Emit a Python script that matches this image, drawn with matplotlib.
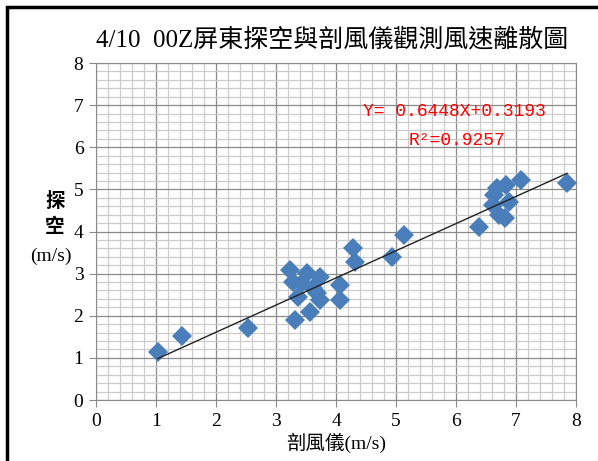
import matplotlib.pyplot as plt
import numpy as np
from matplotlib.patches import Rectangle
from matplotlib.ticker import MultipleLocator

plt.rcParams['font.family'] = ['Liberation Serif', 'Noto Sans CJK TC', 'DejaVu Sans']

# 剖風儀 / 探空 風速 (m/s)
profiler = [1.03, 1.43, 2.53, 3.23, 3.28, 3.51, 3.73, 3.44, 3.36, 3.68,
            3.73, 3.56, 3.31, 3.61, 4.06, 4.06, 4.28, 4.31, 4.94, 5.14,
            6.39, 6.69, 6.84, 7.09, 6.64, 6.89, 6.61, 6.72, 6.81, 7.85]
sounding = [1.14, 1.52, 1.71, 3.09, 2.80, 3.02, 2.92, 2.78, 2.45, 2.54,
            2.38, 2.09, 1.90, 2.66, 2.73, 2.38, 3.61, 3.28, 3.40, 3.92,
            4.11, 5.04, 5.11, 5.23, 4.87, 4.70, 4.63, 4.39, 4.32, 5.15]
slope, intercept, r2 = 0.6448, 0.3193, 0.9257

fig = plt.figure(figsize=(5.98, 4.61), dpi=100)
ax = fig.add_axes([0.1605, 0.1323, 0.8028, 0.731])

ax.set_xlim(0, 8)
ax.set_ylim(0, 8)
ax.xaxis.set_major_locator(MultipleLocator(1))
ax.yaxis.set_major_locator(MultipleLocator(1))
ax.xaxis.set_minor_locator(MultipleLocator(0.2))
ax.yaxis.set_minor_locator(MultipleLocator(0.2))
ax.grid(which='minor', color='#cccccc', linewidth=0.9)
ax.grid(which='major', color='#8a8a8a', linewidth=0.9)
ax.set_axisbelow(True)
for s in ax.spines.values():
    s.set_color('#8a8a8a')
ax.tick_params(which='major', length=5, color='#8a8a8a', labelsize=14, pad=4)
ax.tick_params(which='minor', length=0)

ax.plot(profiler, sounding, 'D', color='#4a7ebb', markersize=10,
        markeredgewidth=0, linestyle='none', zorder=3)

xf = np.array([min(profiler), max(profiler)])
ax.plot(xf, slope * xf + intercept, color='#222222', linewidth=1.0, zorder=4)

mono = ['Liberation Mono', 'DejaVu Sans Mono']
ax.text(7.5, 6.85, f'Y= {slope:.4f}X+{intercept:.4f}', color='red',
        fontsize=13, ha='right', va='center', family=mono)
ax.text(6.82, 6.17, f'R²={r2:.4f}', color='red', fontsize=13,
        ha='right', va='center', family=mono)

fig.text(0.555, 0.915, '4/10  00Z屏東探空與剖風儀觀測風速離散圖',
         fontsize=18, ha='center', va='center')
ax.set_xlabel('剖風儀(m/s)', fontsize=14, labelpad=2)
fig.text(0.092, 0.535, '探\n空', fontsize=14, ha='center', va='center',
         linespacing=1.45, fontweight='bold')
fig.text(0.085, 0.443, '(m/s)', fontsize=14, ha='center', va='center')

# outer border of the chart area
fig.patches.append(Rectangle((0.012, -0.1), 1.2, 1.085, transform=fig.transFigure,
                             fill=False, edgecolor='black', linewidth=2.5))

fig.savefig('out.png', dpi=100)
